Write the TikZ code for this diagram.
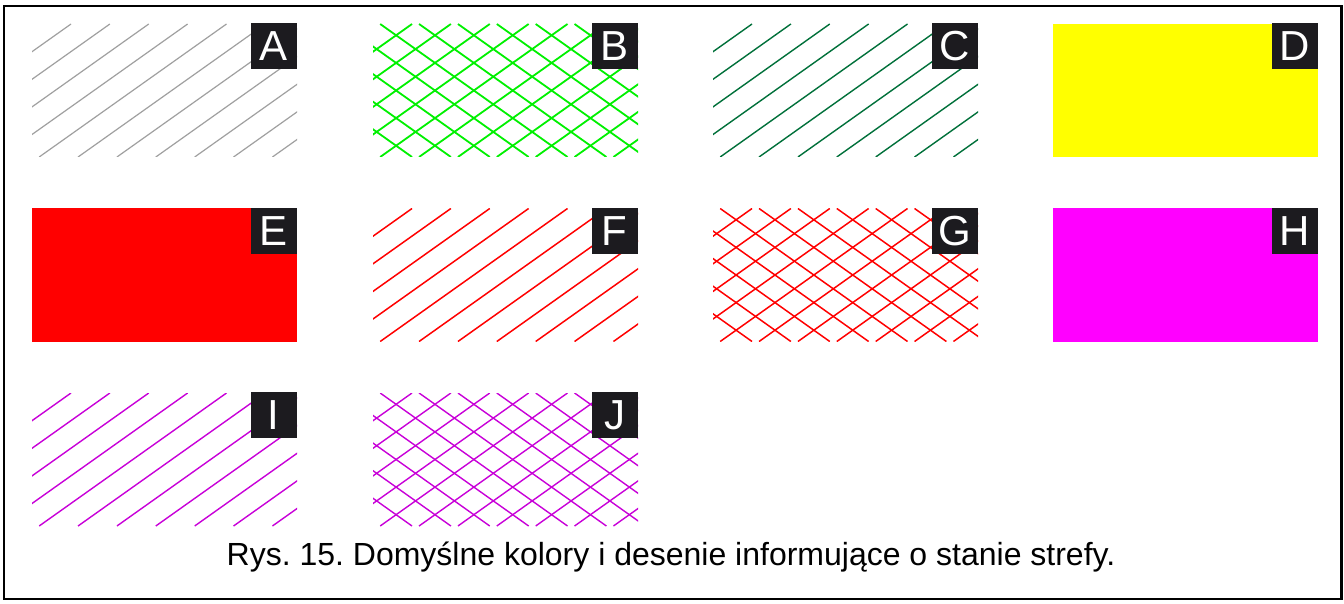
\documentclass[tikz,border=0pt]{standalone}
\usepackage{fontspec}
\setmainfont{Liberation Sans}
\frenchspacing
\definecolor{lblbg}{HTML}{1C1B1F}
\definecolor{hgrey}{HTML}{A0A0A0}
\definecolor{hgreen}{HTML}{00F000}
\definecolor{hdgreen}{HTML}{00703A}
\definecolor{hred}{HTML}{FF0000}
\definecolor{hpurple}{HTML}{C800D8}
\definecolor{fyellow}{HTML}{FFFF00}
\definecolor{fmagenta}{HTML}{FF00FF}
\newcommand\myhatch[4]{% x0, y0, colour, width
  \begin{scope}
    \clip (#1,#2) rectangle ++(265,133);
    \foreach \k in {0,...,10} {
      \pgfmathsetmacro\cc{27.7+27.6*\k}
      \draw[#3, line width=#4] ({#1+\cc/0.71},#2) -- ({#1+(\cc-133)/0.71},{#2+133});
    }
  \end{scope}}
\newcommand\mycross[4]{% x0, y0, colour, width
  \begin{scope}
    \clip (#1,#2) rectangle ++(265,133);
    \foreach \k in {0,...,10} {
      \pgfmathsetmacro\cc{27.7+27.6*\k}
      \draw[#3, line width=#4] ({#1+\cc/0.71},#2) -- ({#1+(\cc-133)/0.71},{#2+133});
      \draw[#3, line width=#4] ({#1+\cc/0.71},{#2+133}) -- ({#1+(\cc-133)/0.71},#2);
    }
  \end{scope}}
\tikzset{
  lbl/.style={fill=lblbg, text=white, minimum size=46pt, inner sep=0pt,
    anchor=north east, font=\fontsize{42}{42}\selectfont},
  frame/.style={draw=black, line width=2.8pt},
  captionstyle/.style={anchor=base, font=\fontsize{32}{38}\selectfont, inner sep=0pt}
}
\begin{document}
\begin{tikzpicture}[x=1pt,y=-1pt]
\useasboundingbox (0,0) rectangle (1344,604);
\fill[white] (0,0) rectangle (1344,604);
\draw[frame] (4,6) rectangle (1341.5,599);
% row 1
\myhatch{32}{24}{hgrey}{1.2pt}
\mycross{373}{24}{hgreen}{1.8pt}
\myhatch{713}{24}{hdgreen}{1.4pt}
\fill[fyellow] (1053,24) rectangle ++(265,133);
% row 2
\fill[hred] (32,208.5) rectangle ++(265,133);
\myhatch{373}{208.5}{hred}{1.5pt}
\mycross{713}{208.5}{hred}{1.5pt}
\fill[fmagenta] (1053,208.5) rectangle ++(265,133);
% row 3
\myhatch{32}{393}{hpurple}{1.4pt}
\mycross{373}{393}{hpurple}{1.4pt}
% labels
\node[lbl] (lA) at (297,23) {A};
\node[lbl] (lB) at (638,23) {B};
\node[lbl] (lC) at (978,23) {C};
\node[lbl] (lD) at (1318,23) {D};
\node[lbl] (lE) at (297,207.5) {E};
\node[lbl] (lF) at (638,207.5) {F};
\node[lbl] (lG) at (978,207.5) {G};
\node[lbl] (lH) at (1318,207.5) {H};
\node[lbl] (lI) at (297,392) {I};
\node[lbl] (lJ) at (638,392) {J};
\node[captionstyle] (cap) at (671,565) {Rys. 15. Domyślne kolory i desenie informujące o stanie strefy.};
\end{tikzpicture}
\end{document}
